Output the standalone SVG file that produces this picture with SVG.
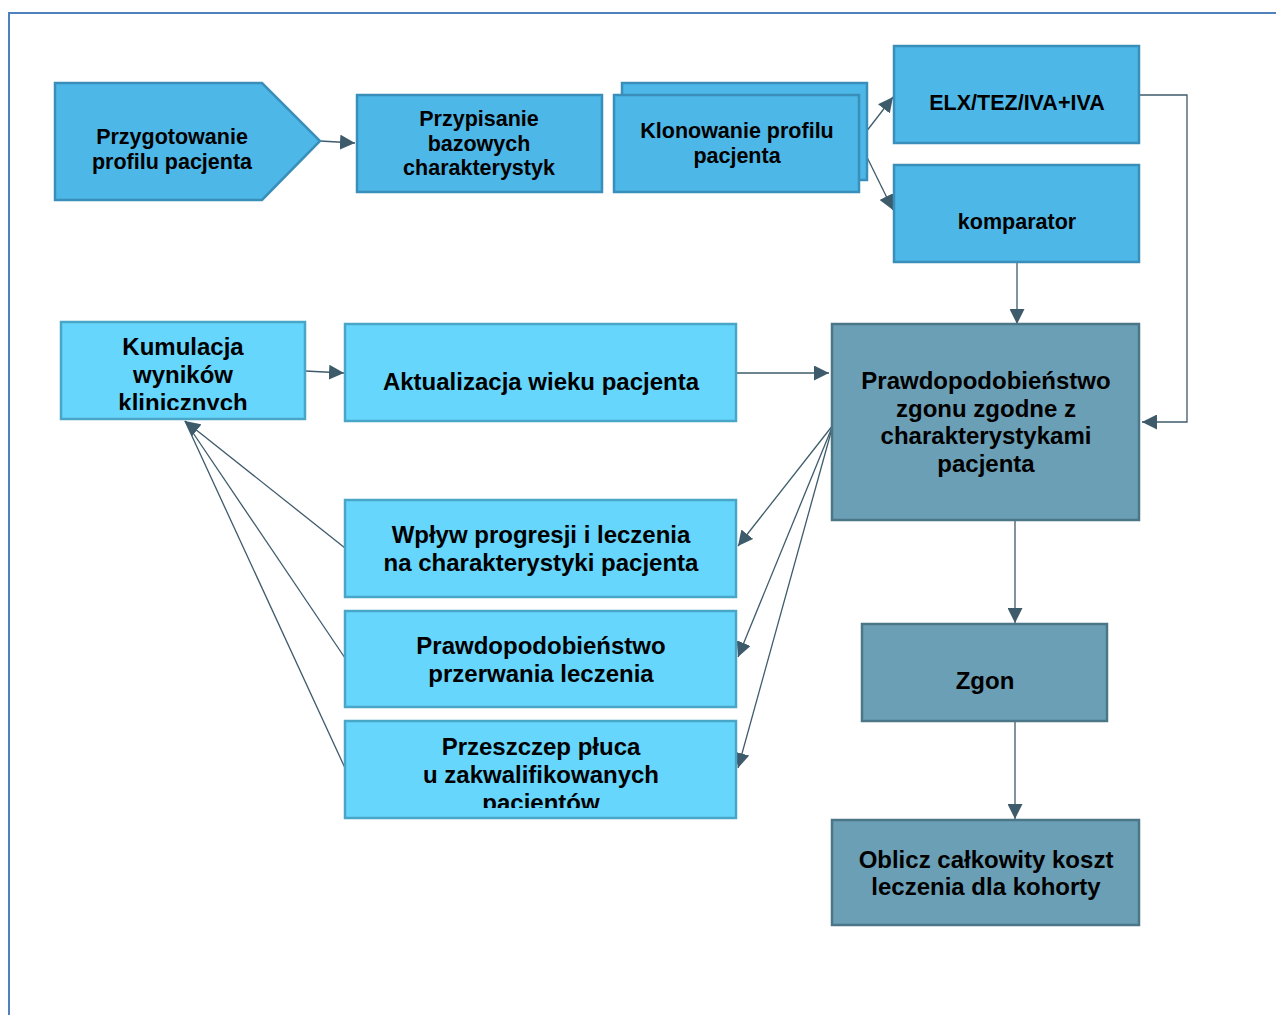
<svg xmlns="http://www.w3.org/2000/svg" width="1276" height="1015" viewBox="0 0 1276 1015">
<defs>
<style>
.t{font-family:"Liberation Sans",Arial,sans-serif;font-weight:bold;fill:#000;text-anchor:middle}
.s{font-size:21.5px}
.m{font-size:24px}
.b1{fill:#4db7e7;stroke:#3a8fba;stroke-width:2.5}
.b2{fill:#66d6fd;stroke:#4aa6c6;stroke-width:2.5}
.b3{fill:#6b9fb5;stroke:#4b7688;stroke-width:2.5}
.c{fill:none;stroke:#3e5b6b;stroke-width:1.3}
</style>
<marker id="a" viewBox="0 0 10 10" refX="10" refY="5" markerWidth="15" markerHeight="15" markerUnits="userSpaceOnUse" orient="auto">
<path d="M0,0 L10,5 L0,10 z" fill="#3e5b6b"/>
</marker>
<clipPath id="k1"><rect x="61" y="322" width="244" height="88"/></clipPath>
<clipPath id="k2"><rect x="345" y="721" width="391" height="87"/></clipPath>
</defs>
<rect width="1276" height="1015" fill="#fff"/>
<path d="M9,1015 V13 H1276" fill="none" stroke="#4f81bd" stroke-width="2"/>

<g id="connectors">
<path class="c" d="M320,141 L355,143" marker-end="url(#a)"/>
<path class="c" d="M859,141 L893,97" marker-end="url(#a)"/>
<path class="c" d="M859,141 L893,210" marker-end="url(#a)"/>
<path class="c" d="M1139,95 H1187 V422 H1142" marker-end="url(#a)"/>
<path class="c" d="M1017,262 V324" marker-end="url(#a)"/>
<path class="c" d="M305,371 L344,373" marker-end="url(#a)"/>
<path class="c" d="M736,373 H829" marker-end="url(#a)"/>
<path class="c" d="M833,425 L738,546" marker-end="url(#a)"/>
<path class="c" d="M833,425 L738,657" marker-end="url(#a)"/>
<path class="c" d="M833,425 L738,768" marker-end="url(#a)"/>
<path class="c" d="M345,548 L185,421" marker-end="url(#a)"/>
<path class="c" d="M345,658 L185,421"/>
<path class="c" d="M345,768 L185,421"/>
<path class="c" d="M1015,520 V623" marker-end="url(#a)"/>
<path class="c" d="M1015,721 V819" marker-end="url(#a)"/>
</g>

<g id="n-przygotowanie">
<path class="b1" d="M55,83 H262 L320,141 L262,200 H55 Z"/>
<text class="t s" x="172" y="144">Przygotowanie</text>
<text class="t s" x="172" y="169">profilu pacjenta</text>
</g>
<g id="n-przypisanie">
<rect class="b1" x="357" y="95" width="245" height="97"/>
<text class="t s" x="479" y="126">Przypisanie</text>
<text class="t s" x="479" y="151">bazowych</text>
<text class="t s" x="479" y="175">charakterystyk</text>
</g>
<g id="n-klonowanie">
<rect class="b1" x="622" y="83" width="245" height="97"/>
<rect class="b1" x="614" y="95" width="245" height="97"/>
<text class="t s" x="737" y="138">Klonowanie profilu</text>
<text class="t s" x="737" y="163">pacjenta</text>
</g>
<g id="n-elx">
<rect class="b1" x="894" y="46" width="245" height="97"/>
<text class="t s" x="1017" y="110">ELX/TEZ/IVA+IVA</text>
</g>
<g id="n-komparator">
<rect class="b1" x="894" y="165" width="245" height="97"/>
<text class="t s" x="1017" y="229">komparator</text>
</g>
<g id="n-kumulacja">
<rect class="b2" x="61" y="322" width="244" height="97"/>
<g clip-path="url(#k1)">
<text class="t m" x="183" y="355">Kumulacja</text>
<text class="t m" x="183" y="383">wyników</text>
<text class="t m" x="183" y="411">klinicznych</text>
</g>
</g>
<g id="n-aktualizacja">
<rect class="b2" x="345" y="324" width="391" height="97"/>
<text class="t m" x="541" y="390">Aktualizacja wieku pacjenta</text>
</g>
<g id="n-wplyw">
<rect class="b2" x="345" y="500" width="391" height="97"/>
<text class="t m" x="541" y="543">Wpływ progresji i leczenia</text>
<text class="t m" x="541" y="571">na charakterystyki pacjenta</text>
</g>
<g id="n-przerwanie">
<rect class="b2" x="345" y="611" width="391" height="96"/>
<text class="t m" x="541" y="654">Prawdopodobieństwo</text>
<text class="t m" x="541" y="682">przerwania leczenia</text>
</g>
<g id="n-przeszczep">
<rect class="b2" x="345" y="721" width="391" height="97"/>
<g clip-path="url(#k2)">
<text class="t m" x="541" y="755">Przeszczep płuca</text>
<text class="t m" x="541" y="783">u zakwalifikowanych</text>
<text class="t m" x="541" y="811">pacientów</text>
</g>
</g>
<g id="n-zgon-prawd">
<rect class="b3" x="832" y="324" width="307" height="196"/>
<text class="t m" x="986" y="389">Prawdopodobieństwo</text>
<text class="t m" x="986" y="417">zgonu zgodne z</text>
<text class="t m" x="986" y="444">charakterystykami</text>
<text class="t m" x="986" y="472">pacjenta</text>
</g>
<g id="n-zgon">
<rect class="b3" x="862" y="624" width="245" height="97"/>
<text class="t m" x="985" y="689">Zgon</text>
</g>
<g id="n-oblicz">
<rect class="b3" x="832" y="820" width="307" height="105"/>
<text class="t m" x="986" y="868">Oblicz całkowity koszt</text>
<text class="t m" x="986" y="895">leczenia dla kohorty</text>
</g>
</svg>
